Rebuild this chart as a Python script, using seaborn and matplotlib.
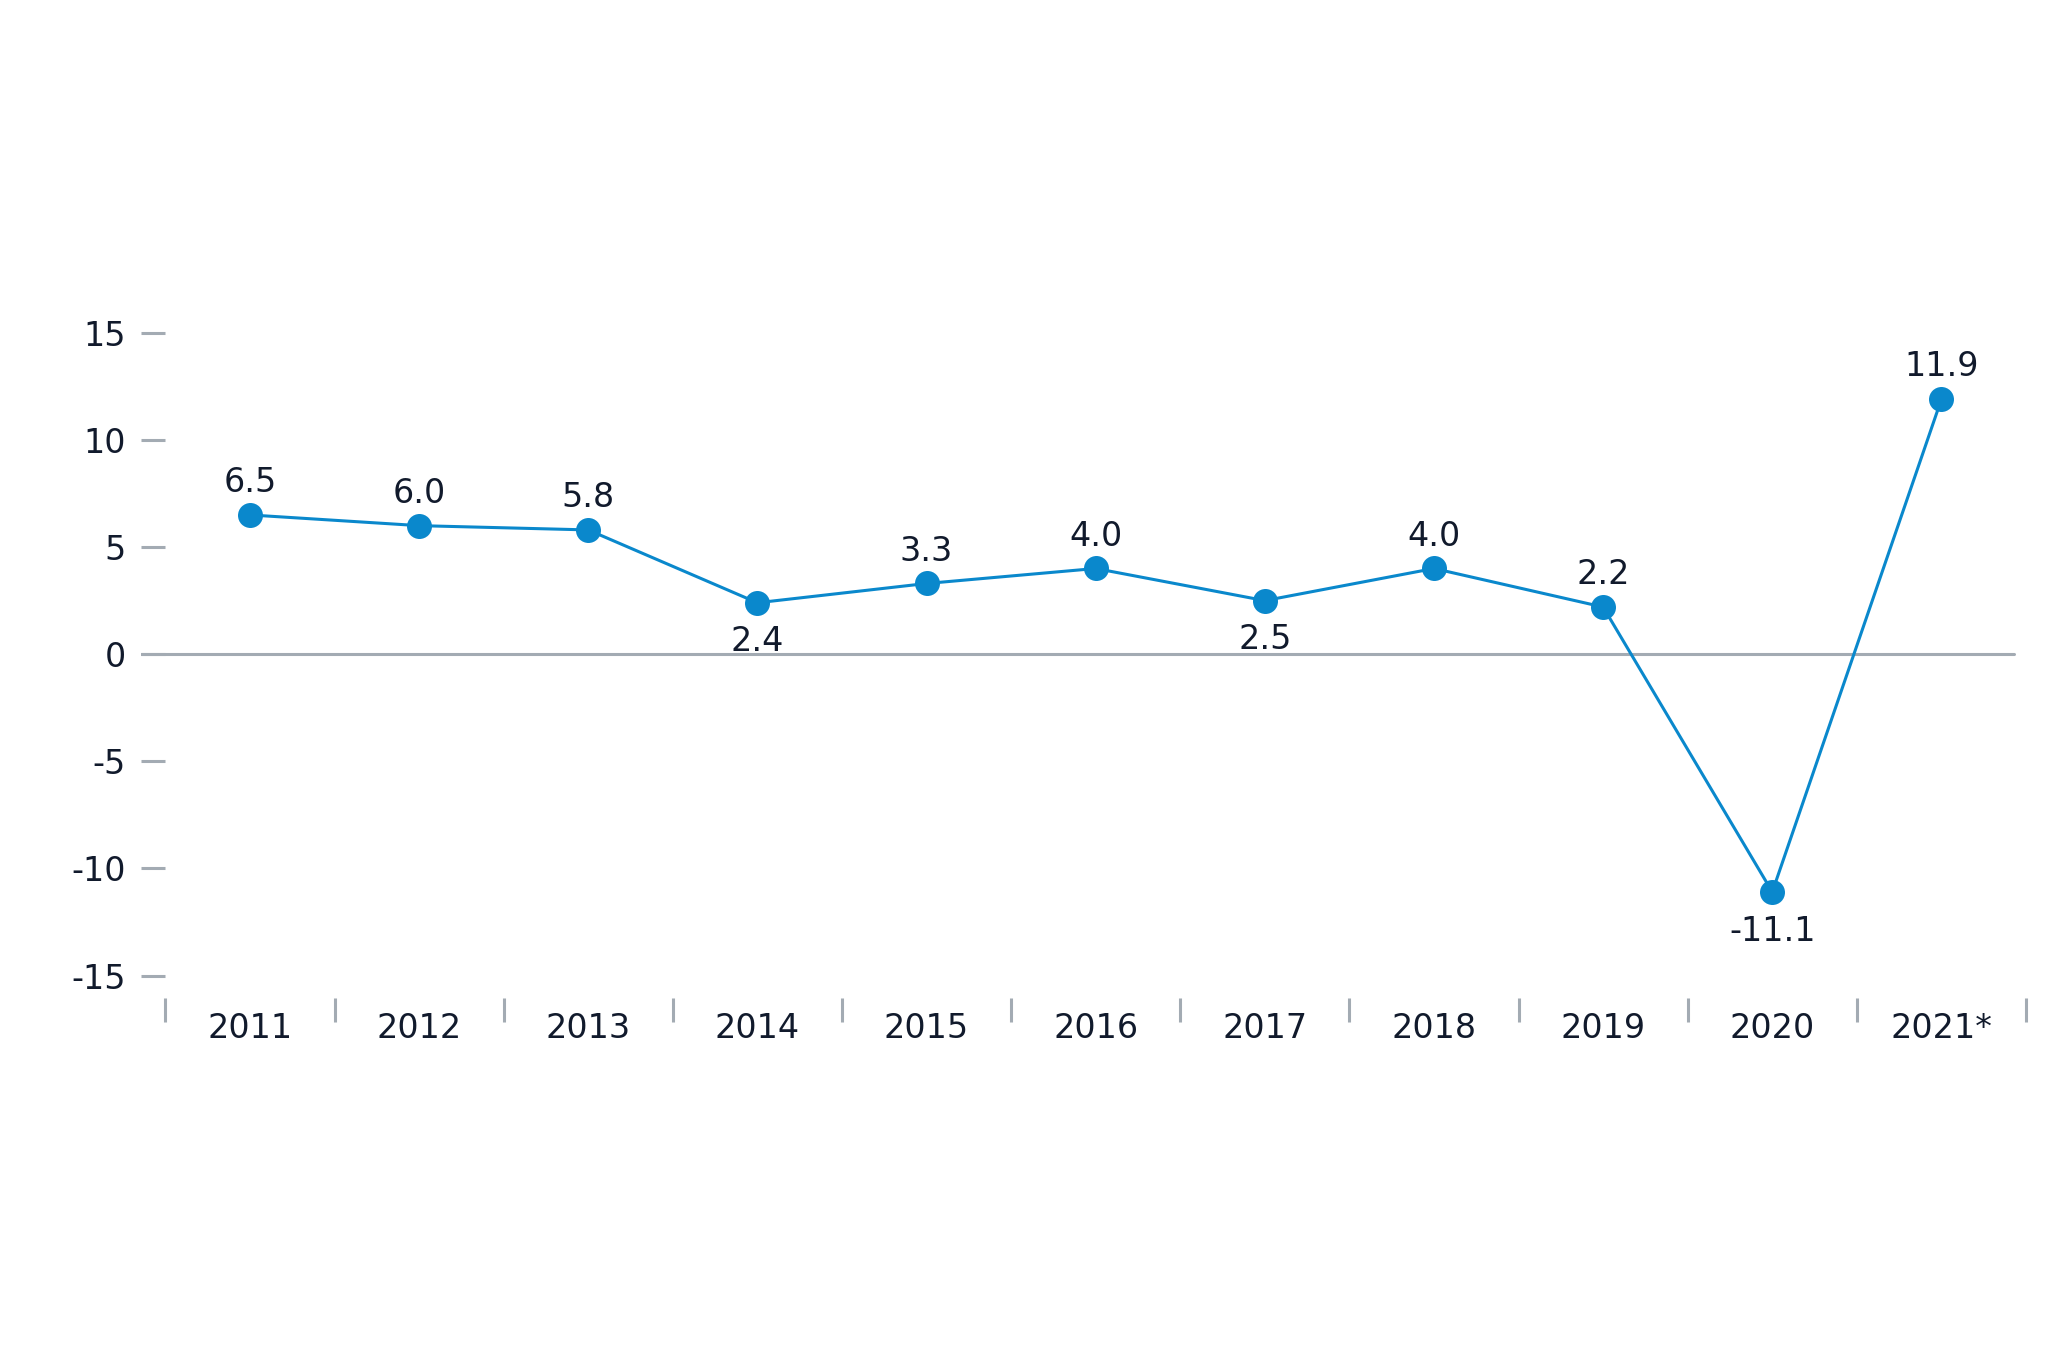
import numpy as np
import pandas as pd
import matplotlib
matplotlib.use("Agg")
import matplotlib.pyplot as plt
from matplotlib.ticker import FixedLocator
import seaborn as sns

years = ["2011", "2012", "2013", "2014", "2015", "2016", "2017", "2018", "2019", "2020", "2021*"]
values = [6.5, 6.0, 5.8, 2.4, 3.3, 4.0, 2.5, 4.0, 2.2, -11.1, 11.9]
label_below = [False, False, False, True, False, False, True, False, False, True, False]
yticks = [-15, -10, -5, 0, 5, 10, 15]

sns.set_theme(style="white")
plt.rcParams["font.family"] = ["DejaVu Sans"]

W, H = 2048, 1365
fig = plt.figure(figsize=(W / 100, H / 100), dpi=100)
# axes box in pixel coordinates
left_px, right_px, top_px, bottom_px = 141, 2026, 290, 998
ax = fig.add_axes([left_px / W, 1 - bottom_px / H, (right_px - left_px) / W, (bottom_px - top_px) / H])

df = pd.DataFrame({"pos": np.arange(len(years)), "value": values})
line_color = "#0a88cc"
text_color = "#111a2c"
grey = "#a3abb3"

ax.axhline(0, color=grey, lw=2.2, xmax=0.9936, zorder=1)
sns.lineplot(data=df, x="pos", y="value", ax=ax, color=line_color, linewidth=2.2,
             marker="o", markersize=18, markeredgewidth=0, zorder=3)

for i, (v, below) in enumerate(zip(values, label_below)):
    off = -35 if below else 16.5
    ax.annotate(f"{v:.1f}", (i, v), xytext=(0, off), textcoords="offset points",
                ha="center", va="baseline", fontsize=24, color=text_color)

ax.set_xlim(-0.644, 10.5)
ax.set_ylim(-16.05, 17.0)
ax.set_yticks(yticks)
ax.set_yticklabels([str(t) for t in yticks])
ax.set_xticks(np.arange(len(years)))
ax.set_xticklabels(years)
ax.xaxis.set_minor_locator(FixedLocator(np.arange(-0.5, len(years), 1.0)))
ax.set_xlabel("")
ax.set_ylabel("")

for s in ax.spines.values():
    s.set_visible(False)

ax.tick_params(axis="y", which="major", direction="in", length=17.3, width=2.2, color=grey,
               pad=11, labelsize=24, labelcolor=text_color, left=True)
ax.tick_params(axis="x", which="major", length=0, pad=10, labelsize=24, labelcolor=text_color)
ax.tick_params(axis="x", which="minor", direction="out", length=17.3, width=2.2, color=grey, bottom=True)
ax.grid(False)

fig.savefig("out.png", dpi=100, facecolor="white")
